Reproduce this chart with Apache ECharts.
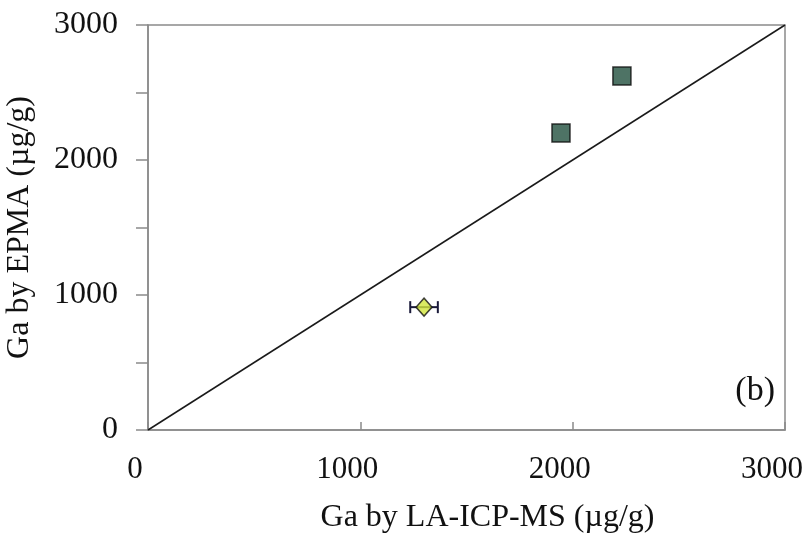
<!DOCTYPE html>
<html>
<head>
<meta charset="utf-8">
<script src="https://cdn.jsdelivr.net/npm/echarts@6/dist/echarts.min.js"></script>
<style>html,body{margin:0;padding:0;background:#fff}#c{width:807px;height:537px}</style>
</head>
<body>
<div id="c"></div>
<script>
// Data
var xTicks = [0, 1000, 2000, 3000];
var yTicks = [0, 1000, 2000, 3000];
var diamondPoints = [[1300, 910]];          // [LA-ICP-MS, EPMA]
var diamondXErr = [65];                     // +/- on x
var squarePoints = [[1945, 2200], [2232, 2622]];
var oneToOne = [[0, 0], [3000, 3000]];

var chart = echarts.init(document.getElementById('c'));
var font = 'Liberation Serif, Times New Roman, serif';
var errData = diamondPoints.map(function (p, i) { return [p[0], p[1], diamondXErr[i]]; });

chart.setOption({
  animation: false,
  backgroundColor: '#fff',
  grid: { left: 148, right: 22, top: 25, bottom: 107, outerBoundsMode: 'none', containLabel: false,
    show: true, borderColor: '#8a8a8a', borderWidth: 1.5 },
  xAxis: {
    type: 'value', min: 0, max: 3000, interval: 1000,
    name: 'Ga by LA-ICP-MS (\u00b5g/g)', nameLocation: 'middle', nameGap: 72,
    nameTextStyle: { fontFamily: font, fontSize: 32, color: '#111', padding: [0, 0, 0, 42] },
    axisLine: { show: true, lineStyle: { color: '#8a8a8a', width: 1.5 } },
    axisTick: { show: true, inside: true, length: 8, lineStyle: { color: '#8a8a8a', width: 1.5 } },
    axisLabel: { fontFamily: font, fontSize: 31, color: '#111', margin: 24, padding: [0, 26, 0, 0],
      formatter: function (v) { return xTicks.indexOf(v) >= 0 ? String(v) : ''; } },
    splitLine: { show: false }
  },
  yAxis: {
    type: 'value', min: 0, max: 3000, interval: 500,
    name: 'Ga by EPMA (\u00b5g/g)', nameLocation: 'middle', nameGap: 112,
    nameTextStyle: { fontFamily: font, fontSize: 32, color: '#111' },
    axisLine: { show: true, lineStyle: { color: '#8a8a8a', width: 1.5 } },
    axisTick: { show: true, inside: false, length: 12, lineStyle: { color: '#8a8a8a', width: 1.5 } },
    axisLabel: { fontFamily: font, fontSize: 32, color: '#111', margin: 30,
      formatter: function (v) { return yTicks.indexOf(v) >= 0 ? String(v) : ''; } },
    splitLine: { show: false }
  },
  graphic: [{
    type: 'text', right: 32, top: 374,
    style: { text: '(b)', font: '34px ' + font, fill: '#111' }
  }],
  series: [
    {
      type: 'line', data: oneToOne, symbol: 'none', silent: true,
      lineStyle: { color: '#1a1a1a', width: 1.5 }, z: 2
    },
    {
      type: 'custom', data: errData, z: 3,
      renderItem: function (params, api) {
        var x = api.value(0), y = api.value(1), e = api.value(2);
        var a = api.coord([x - e, y]), b = api.coord([x + e, y]);
        var st = { stroke: '#1a1a3a', lineWidth: 2 };
        var h = 6;
        return { type: 'group', children: [
          { type: 'line', shape: { x1: a[0], y1: a[1], x2: b[0], y2: b[1] }, style: st },
          { type: 'line', shape: { x1: a[0], y1: a[1] - h, x2: a[0], y2: a[1] + h }, style: st },
          { type: 'line', shape: { x1: b[0], y1: b[1] - h, x2: b[0], y2: b[1] + h }, style: st }
        ] };
      }
    },
    {
      type: 'scatter', data: diamondPoints, symbol: 'diamond', symbolSize: [16, 18], z: 4,
      itemStyle: { color: '#d2e63c', borderColor: '#111', borderWidth: 1.5 }
    },
    {
      type: 'scatter', data: squarePoints, symbol: 'rect', symbolSize: 18, z: 4,
      itemStyle: { color: '#22503e', borderColor: '#0d0d0d', borderWidth: 1.5 }
    }
  ]
});
</script>
</body>
</html>
